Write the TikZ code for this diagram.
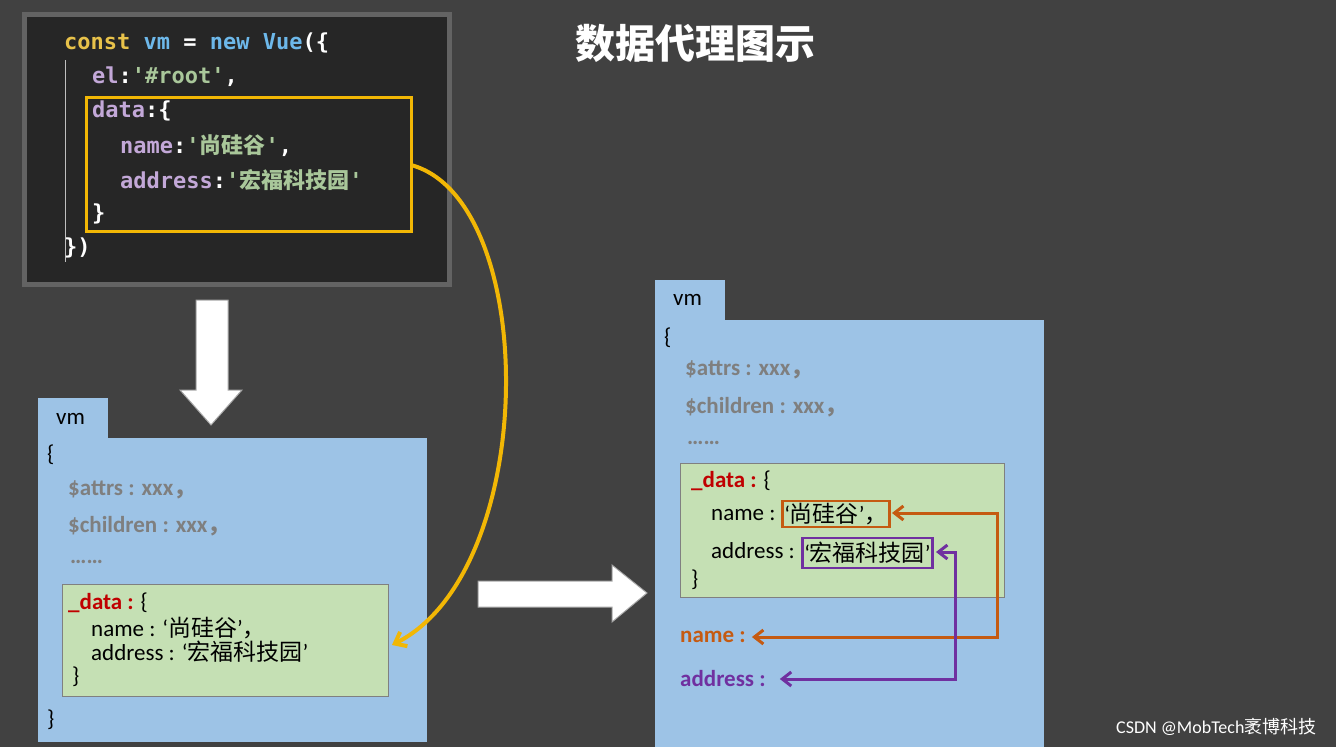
\documentclass[tikz,border=0pt]{standalone}
\usepackage{fontspec}
\setmainfont{Carlito}
\newfontfamily\cjk{Noto Sans CJK SC}
\newfontfamily\mono{DejaVu Sans Mono}
\usetikzlibrary{arrows.meta}
\definecolor{bg}{HTML}{414141}
\definecolor{codebg}{HTML}{262626}
\definecolor{kw}{HTML}{E8C24A}
\definecolor{bl}{HTML}{6DB8EA}
\definecolor{pu}{HTML}{C3A8D8}
\definecolor{gr}{HTML}{A9C79A}
\definecolor{yel}{HTML}{F2B705}
\definecolor{vmblue}{HTML}{9DC3E6}
\definecolor{dgreen}{HTML}{C5E0B4}
\definecolor{gtxt}{HTML}{7F7F7F}
\definecolor{dred}{HTML}{C00000}
\definecolor{ora}{HTML}{C55A11}
\definecolor{pur}{HTML}{7030A0}
\tikzset{
 code/.style={anchor=west,font=\mono\bfseries\fontsize{22}{22}\selectfont,inner sep=0},
 txt/.style={anchor=west,font=\fontsize{23}{23}\selectfont,inner sep=0},
 gtx/.style={txt,text=gtxt,font=\bfseries\fontsize{23}{23}\selectfont},
 vmbox/.style={fill=vmblue,draw=none},
 dbox/.style={fill=dgreen,draw=gray,line width=0.8},
 blockarrow/.style={fill=white,draw=gray!70,line width=1},
 tip/.style={{Straight Barb[length=9pt,width=14pt]}-{Straight Barb[length=9pt,width=14pt]}},
}
\begin{document}
\begin{tikzpicture}[x=1pt,y=-1pt]
\fill[bg] (0,0) rectangle (1336,747);
\useasboundingbox (0,0) rectangle (1336,747);
\fill[gray!55!bg] (22,12) rectangle (452,287);
\fill[codebg] (27,17) rectangle (447,282);
\draw[gray!50,line width=0.6] (65,60) -- (65,262);
\node[code] (c1) at (64,43) {\textcolor{kw}{const} \textcolor{bl}{vm} \textcolor{white!85}{=} \textcolor{bl}{new} \textcolor{bl}{Vue}\textcolor{white!85}{(\{}};
\node[code] (c2) at (92,77) {\textcolor{pu}{el}\textcolor{white!85}{:}\textcolor{gr}{'\#root'}\textcolor{white!85}{,}};
\node[code] (c3) at (92,111) {\textcolor{pu}{data}\textcolor{white!85}{:\{}};
\node[code] (c4) at (120,146) {\textcolor{pu}{name}\textcolor{white!85}{:}\textcolor{gr}{'{\cjk 尚硅谷}'}\textcolor{white!85}{,}};
\node[code] (c5) at (120,180) {\textcolor{pu}{address}\textcolor{white!85}{:}\textcolor{gr}{'{\cjk 宏福科技园}'}};
\node[code] (c6) at (92,214) {\textcolor{white!85}{\}}};
\node[code] (c7) at (64,248) {\textcolor{white!85}{\})}};
\draw[yel,line width=3] (86,97) rectangle (411,231);
\coordinate (ys) at (411,165);
\node[font=\cjk\bfseries\fontsize{40}{40}\selectfont,text=white] (title) at (695,43) {数据代理图示};
\draw[blockarrow] (196,300) -- (228,300) -- (228,390) -- (242,390) -- (211,425) -- (180,390) -- (196,390) -- cycle;
\fill[vmbox] (38,398) rectangle (108,440);
\fill[vmbox] (38,438) rectangle (427,742);
\node[txt] (lvm) at (56,419) {vm};
\node[txt] at (47,455) {\{};
\node[gtx] at (68,490) {\$attrs : xxx{\cjk ，}};
\node[gtx] at (68,526) {\$children : xxx{\cjk ，}};
\node[gtx] at (70,562) {……};
\draw[dbox] (62,584) rectangle (388,696);
\node[txt] at (68,603) {\textcolor{dred}{\textbf{\_data :}} \{};
\node[txt] at (91,628) {name : ‘{\cjk 尚硅谷}’{\cjk ，}};
\node[txt] at (91,652) {address : ‘{\cjk 宏福科技园}’};
\node[txt] at (72,677) {\}};
\node[txt] at (47,720) {\}};
\coordinate (ye) at (392,645);
\draw[yel,line width=4,-{Straight Barb[length=10pt,width=16pt]}] (ys) .. controls (540,200) and (540,570) .. (ye);
\draw[blockarrow] (478,581) -- (612,581) -- (612,565) -- (647,593) -- (612,622) -- (612,607) -- (478,607) -- cycle;
\fill[vmbox] (655,280) rectangle (725,322);
\fill[vmbox] (655,320) rectangle (1044,747);
\node[txt] (rvm) at (673,300) {vm};
\node[txt] at (664,338) {\{};
\node[gtx] at (685,370) {\$attrs : xxx{\cjk ，}};
\node[gtx] at (685,407) {\$children : xxx{\cjk ，}};
\node[gtx] at (687,443) {……};
\draw[dbox] (680,463) rectangle (1004,597);
\node[txt] at (691,481) {\textcolor{dred}{\textbf{\_data :}} \{};
\node[txt] at (711,515) {name :};
\node[txt] at (711,551) {address :};
\node[txt] at (691,580) {\}};
\node[txt,draw=ora,line width=2.5,inner sep=2pt,minimum height=26,minimum width=94] (nv) at (781,514) {‘{\cjk 尚硅谷}’{\cjk ，}};
\node[txt,draw=pur,line width=2.5,inner sep=2pt,minimum height=30,minimum width=128] (av) at (801,553) {‘{\cjk 宏福科技园}’};
\node[txt,text=ora,font=\bfseries\fontsize{23}{23}\selectfont] (nl) at (680,637) {name :};
\node[txt,text=pur,font=\bfseries\fontsize{23}{23}\selectfont] (al) at (680,679) {address :};
\draw[ora,line width=3,tip] ([xshift=6pt]nl.east) -- (997,637) -- (997,513) -- ([xshift=1pt]nv.east|-997,513);
\draw[pur,line width=3,tip] ([xshift=14pt]al.east) -- (955,679) -- (955,552) -- ([xshift=2pt]av.east|-955,552);
\node[anchor=east,text=white!85,font=\fontsize{18}{18}\selectfont] (wm) at (1320,727) {CSDN @MobTech{\cjk 袤博科技}};
\end{tikzpicture}
\end{document}
